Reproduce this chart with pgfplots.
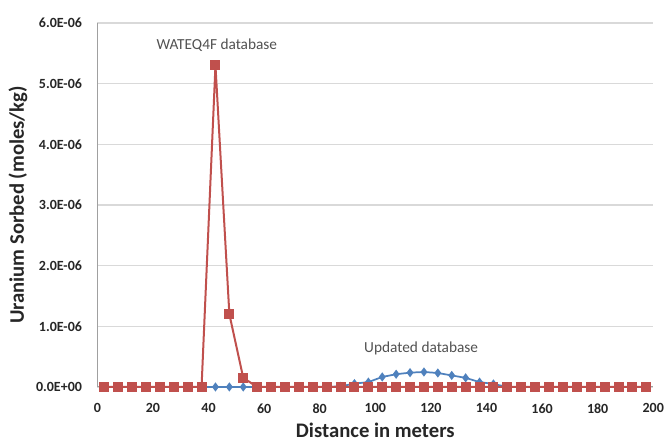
\documentclass[border=0pt]{standalone}
\usepackage{pgfplots}
\pgfplotsset{compat=1.18}
\usepackage{fontspec}
\setmainfont{Carlito}
\definecolor{xlred}{HTML}{C0504D}
\definecolor{xlblue}{HTML}{4F81BD}
\definecolor{gridgray}{HTML}{D9D9D9}
\definecolor{axgray}{HTML}{A0A0A0}
\definecolor{txt}{HTML}{262626}
\begin{document}
\begin{tikzpicture}[x=1pt,y=1pt]
\begin{axis}[
  at={(0,0)}, anchor=south west,
  scale only axis,
  width=417pt, height=273pt,
  xmin=0, xmax=200, ymin=0, ymax=6e-6,
  xtick={0,20,...,200},
  ytick={0,1e-6,2e-6,3e-6,4e-6,5e-6,6e-6},
  yticklabels={0.0E+00,1.0E-06,2.0E-06,3.0E-06,4.0E-06,5.0E-06,6.0E-06},
  scaled y ticks=false,
  /pgf/number format/assume math mode=true,
  ymajorgrids, major grid style={gridgray, line width=1pt},
  major tick length=0pt,
  axis x line*=bottom, axis y line*=left,
  axis line style={axgray, line width=0.8pt},
  tick label style={font=\fontsize{10.5}{12}\selectfont\bfseries, text=txt},
  xticklabel style={yshift=-9pt},
  yticklabel style={xshift=-8pt},
  xlabel={Distance in meters},
  ylabel={Uranium Sorbed (moles/kg)},
  label style={font=\fontsize{15.5}{18}\selectfont\bfseries, text=txt},
  xlabel style={at={(axis description cs:0.5,0)}, anchor=center, yshift=-32.5pt},
  ylabel style={at={(axis description cs:0,0.5)}, anchor=center, yshift=59.5pt},
  clip=false,
]
\addplot[xlblue, line width=1.3pt, mark=diamond*, mark size=2.4pt, mark options={solid}] coordinates {
(2.5,0) (7.5,0) (12.5,0) (17.5,0) (22.5,0) (27.5,0) (32.5,0) (37.5,0)
(42.5,0) (47.5,0) (52.5,0) (57.5,0) (62.5,0) (67.5,0) (72.5,0) (77.5,0)
(82.5,0) (87.5,0.01e-6) (92.5,0.055e-6) (97.5,0.08e-6) (102.5,0.165e-6) (107.5,0.21e-6)
(112.5,0.236e-6) (117.5,0.247e-6) (122.5,0.23e-6) (127.5,0.19e-6) (132.5,0.15e-6)
(137.5,0.08e-6) (142.5,0.05e-6) (147.5,0) (152.5,0) (157.5,0) (162.5,0) (167.5,0)
(172.5,0) (177.5,0) (182.5,0) (187.5,0) (192.5,0) (197.5,0)
};
\addplot[xlred, line width=1.5pt, mark=square*, mark size=3pt, mark options={solid}] coordinates {
(2.5,0) (7.5,0) (12.5,0) (17.5,0) (22.5,0) (27.5,0) (32.5,0) (37.5,0)
(42.5,5.3e-6) (47.5,1.2e-6) (52.5,0.15e-6) (57.5,0) (62.5,0) (67.5,0) (72.5,0) (77.5,0)
(82.5,0) (87.5,0) (92.5,0) (97.5,0) (102.5,0) (107.5,0)
(112.5,0) (117.5,0) (122.5,0) (127.5,0) (132.5,0)
(137.5,0) (142.5,0) (147.5,0) (152.5,0) (157.5,0) (162.5,0) (167.5,0)
(172.5,0) (177.5,0) (182.5,0) (187.5,0) (192.5,0) (197.5,0)
};
\node[font=\fontsize{11.5}{13}\selectfont, text=txt!80] at (axis cs:43,5.63e-6) {WATEQ4F database};
\node[font=\fontsize{11.5}{13}\selectfont, text=txt!80] at (axis cs:116.5,0.64e-6) {Updated database};
\end{axis}
\pgfresetboundingbox
\useasboundingbox (-73pt,-40.5pt) rectangle (427.3pt,290.25pt);
\end{tikzpicture}
\end{document}
